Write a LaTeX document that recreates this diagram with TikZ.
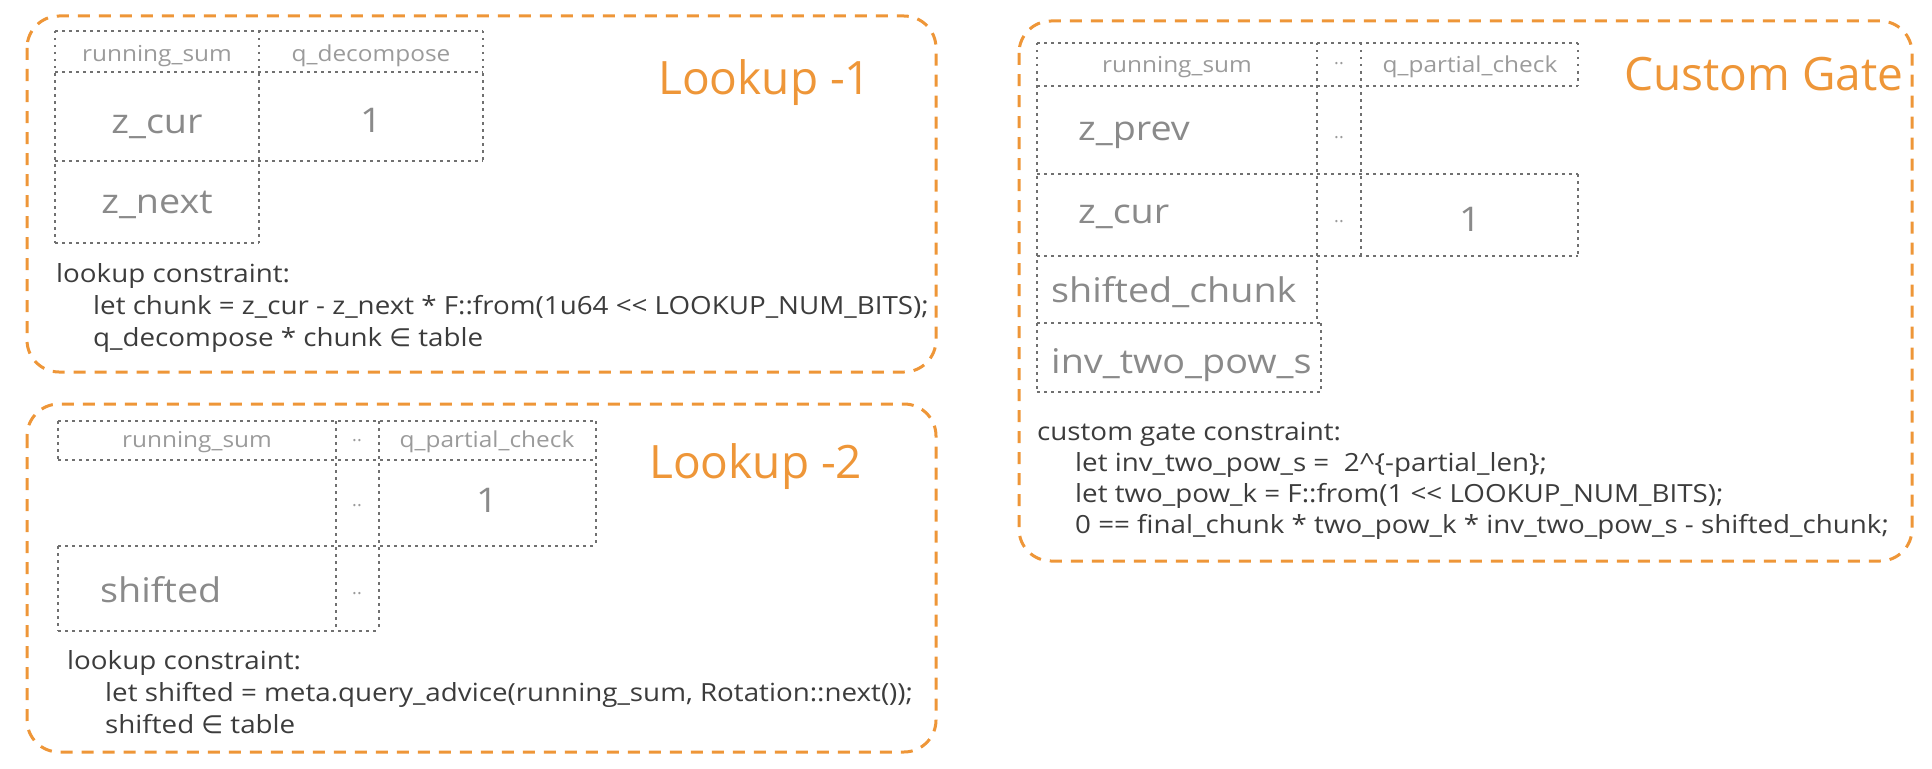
\documentclass[tikz,border=0pt]{standalone}
\usepackage{fontspec}
\setmainfont{Open Sans}
\newfontfamily\widefont{Open Sans}[FakeStretch=1.11]
\newfontfamily\symfont{DejaVu Sans}
\usepackage{xcolor}
\usetikzlibrary{positioning}

\definecolor{grouporange}{RGB}{238,150,56}
\definecolor{linegray}{RGB}{112,112,112}
\definecolor{headgray}{RGB}{155,155,155}
\definecolor{cellgray}{RGB}{138,138,138}
\definecolor{codegray}{RGB}{60,60,60}

\newcommand{\elemof}{{\symfont ∈}}

\begin{document}
\begin{tikzpicture}[
  x=1pt, y=-1pt,
  every node/.style={inner sep=0pt},
  group/.style={draw=grouporange, line width=3pt, dash pattern=on 12pt off 9pt,
                rounded corners=32pt},
  tabline/.style={draw=linegray, line width=2.5pt, dash pattern=on 2.5pt off 4.5pt},
  colhead/.style={text=headgray, font=\widefont\fontsize{22}{26}\selectfont},
  dotdot/.style={text=headgray, font=\fontsize{18}{22}\selectfont},
  cellentry/.style={text=cellgray, font=\widefont\fontsize{34}{40}\selectfont},
  grouptitle/.style={text=grouporange, font=\fontsize{46}{55}\selectfont, anchor=west},
  codeline/.style={text=codegray, font=\widefont\fontsize{25}{32}\selectfont,
                   anchor=base west, align=left}
]
\useasboundingbox (0,0) rectangle (1932,768);

% Lookup -1
\draw[group] (27,16) rectangle (936,372);
\draw[tabline] (55,31) -- (483,31);
\draw[tabline] (55,72) -- (483,72);
\draw[tabline] (55,161) -- (483,161);
\draw[tabline] (55,243) -- (259,243);
\draw[tabline] (55,31) -- (55,243);
\draw[tabline] (259,31) -- (259,243);
\draw[tabline] (483,31) -- (483,161);

\node[colhead]   (rs1) at (157,56)  {running\_sum};
\node[colhead]   (qd1) at (371,56)  {q\_decompose};
\node[cellentry] (zc1) at (157,127) {z\_cur};
\node[cellentry] (on1) at (371,120) {1};
\node[cellentry] (zn1) at (157,205) {z\_next};
\node[grouptitle] (lk1) at (658,83) {Lookup -1};
\node[codeline] (cs1) at (56,346)
  {lookup constraint:\\
   \hspace*{37pt}let chunk = z\_cur - z\_next * F::from(1u64 <\kern0pt< LOOKUP\_NUM\_BITS);\\
   \hspace*{37pt}q\_decompose * chunk \elemof{} table};

% Lookup -2
\draw[group] (27,404) rectangle (936,752);
\draw[tabline] (58,421) -- (596,421);
\draw[tabline] (58,460) -- (596,460);
\draw[tabline] (58,546) -- (596,546);
\draw[tabline] (58,631) -- (379,631);
\draw[tabline] (58,421) -- (58,460);
\draw[tabline] (58,546) -- (58,631);
\draw[tabline] (336,421) -- (336,631);
\draw[tabline] (379,421) -- (379,631);
\draw[tabline] (596,421) -- (596,546);

\node[colhead]   (rs2) at (197,442) {running\_sum};
\node[dotdot]    (dh2) at (357,441) {..};
\node[colhead]   (qp2) at (487,442) {q\_partial\_check};
\node[dotdot]    (da2) at (357,506) {..};
\node[cellentry] (on2) at (487,500) {1};
\node[cellentry, anchor=west] (sh2) at (100,590) {shifted};
\node[dotdot]    (db2) at (357,594) {..};
\node[grouptitle] (lk2) at (649,467) {Lookup -2};
\node[codeline] (cs2) at (67,733)
  {lookup constraint:\\
   \hspace*{38pt}let shifted = meta.query\_advice(running\_sum, Rotation::next());\\
   \hspace*{38pt}shifted \elemof{} table};

% Custom Gate
\draw[group] (1019,21) rectangle (1912,561);
\draw[tabline] (1037,43) -- (1578,43);
\draw[tabline] (1037,86) -- (1578,86);
\draw[tabline] (1037,174) -- (1578,174);
\draw[tabline] (1037,256) -- (1578,256);
\draw[tabline] (1037,323) -- (1321,323);
\draw[tabline] (1037,392) -- (1321,392);
\draw[tabline] (1037,43) -- (1037,392);
\draw[tabline] (1317,43) -- (1317,323);
\draw[tabline] (1321,323) -- (1321,392);
\draw[tabline] (1361,43) -- (1361,256);
\draw[tabline] (1578,43) -- (1578,86);
\draw[tabline] (1578,174) -- (1578,256);

\node[colhead]   (rs3) at (1177,67)  {running\_sum};
\node[dotdot]    (dh3) at (1339,64)  {..};
\node[colhead]   (qp3) at (1470,67)  {q\_partial\_check};
\node[cellentry, anchor=west] (zp3) at (1078,135) {z\_prev};
\node[dotdot]    (da3) at (1339,138) {..};
\node[cellentry, anchor=west] (zc3) at (1078,217) {z\_cur};
\node[dotdot]    (db3) at (1339,222) {..};
\node[cellentry] (on3) at (1470,219) {1};
\node[cellentry, anchor=west] (sc3) at (1051,292) {shifted\_chunk};
\node[cellentry, anchor=west] (iv3) at (1051,365) {inv\_two\_pow\_s};
\node[grouptitle] (cg3) at (1624,74) {Custom Gate};
\node[codeline] (cs3) at (1037,533)
  {custom gate constraint:\\[-1pt]
   \hspace*{38pt}let inv\_two\_pow\_s = \ 2\textasciicircum\{-partial\_len\};\\[-1pt]
   \hspace*{38pt}let two\_pow\_k = F::from(1 <\kern0pt< LOOKUP\_NUM\_BITS);\\[-1pt]
   \hspace*{38pt}0 == final\_chunk * two\_pow\_k * inv\_two\_pow\_s - shifted\_chunk;};
\end{tikzpicture}
\end{document}
